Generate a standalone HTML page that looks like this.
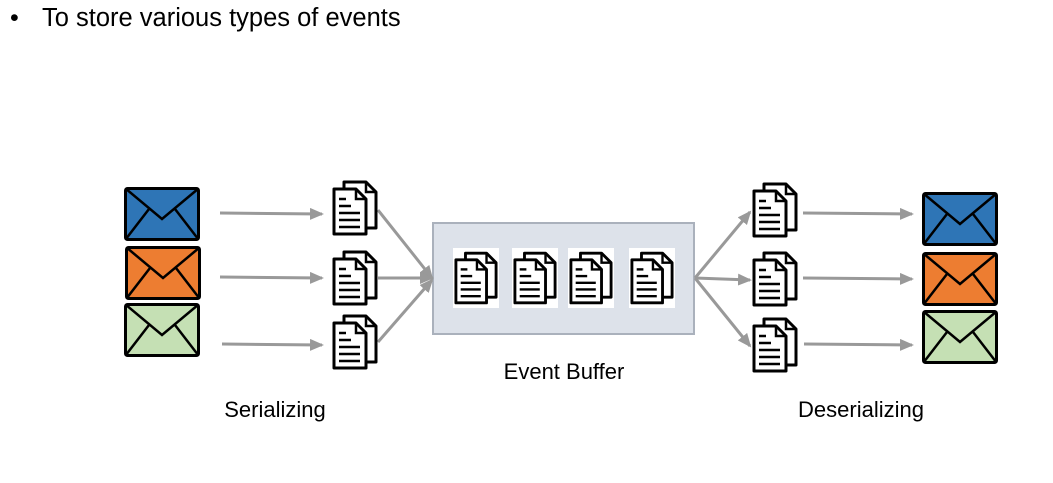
<!DOCTYPE html>
<html><head><style>
body{margin:0;background:#fff;width:1053px;height:478px;overflow:hidden;font-family:"Liberation Sans",sans-serif}
</style></head><body>
<svg width="1053" height="478" viewBox="0 0 1053 478" xmlns="http://www.w3.org/2000/svg">
<defs>
<symbol id="doc" viewBox="0 0 46 56">
<path d="M12 2 H34 L44 12 V48 H12 Z" fill="#fff" stroke="#000" stroke-width="3" stroke-linejoin="round"/>
<path d="M34 2 V12 H44" fill="none" stroke="#000" stroke-width="2.5"/>
<path d="M2 9 H24 L34 19 V54 H2 Z" fill="#fff" stroke="#000" stroke-width="3" stroke-linejoin="round"/>
<path d="M24 9 V19 H34" fill="none" stroke="#000" stroke-width="2.5"/>
<g stroke="#000" stroke-width="2.5"><line x1="7" y1="19" x2="14" y2="19"/><line x1="7" y1="26" x2="19" y2="26"/><line x1="7" y1="33" x2="28" y2="33"/><line x1="7" y1="40" x2="28" y2="40"/><line x1="7" y1="47" x2="28" y2="47"/></g>
</symbol>
<symbol id="env" viewBox="0 0 76 54">
<rect x="1.5" y="1.5" width="73" height="51" rx="2" stroke="#000" stroke-width="3" fill="inherit"/>
<path d="M1.5 1.5 L38 32 L74.5 1.5 M1.5 52.5 L25 22 M74.5 52.5 L51 22" fill="none" stroke="#000" stroke-width="2.5"/>
</symbol>
<marker id="ah2" markerWidth="14" markerHeight="12" refX="12" refY="6" orient="auto" markerUnits="userSpaceOnUse"><path d="M0 0 L14 6 L0 12Z" fill="#999"/></marker>
</defs>
<text x="10" y="26" font-size="25" fill="#000">•</text>
<text x="42" y="26" font-size="25.5" fill="#000">To store various types of events</text>

<rect x="433" y="223" width="261" height="111" fill="#dde2ea" stroke="#aab1bc" stroke-width="2"/>

<g stroke="#999" stroke-width="3" fill="none">
<line x1="220" y1="213" x2="322" y2="214" marker-end="url(#ah2)"/>
<line x1="220" y1="277" x2="322" y2="278" marker-end="url(#ah2)"/>
<line x1="222" y1="344" x2="322" y2="345" marker-end="url(#ah2)"/>
<line x1="378" y1="210" x2="432" y2="278" marker-end="url(#ah2)"/>
<line x1="378" y1="278" x2="432" y2="278" marker-end="url(#ah2)"/>
<line x1="378" y1="342" x2="432" y2="280" marker-end="url(#ah2)"/>
<line x1="695" y1="278" x2="750" y2="212" marker-end="url(#ah2)"/>
<line x1="695" y1="278" x2="750" y2="280" marker-end="url(#ah2)"/>
<line x1="695" y1="278" x2="750" y2="346" marker-end="url(#ah2)"/>
<line x1="803" y1="213" x2="912" y2="214" marker-end="url(#ah2)"/>
<line x1="803" y1="278" x2="912" y2="279" marker-end="url(#ah2)"/>
<line x1="804" y1="344" x2="912" y2="345" marker-end="url(#ah2)"/>
</g>

<use href="#env" x="124" y="187" width="76" height="54" fill="#2e75b6"/>
<use href="#env" x="125" y="246" width="76" height="54" fill="#ed7d31"/>
<use href="#env" x="124" y="303" width="76" height="54" fill="#c5e0b4"/>
<use href="#env" x="922" y="192" width="76" height="54" fill="#2e75b6"/>
<use href="#env" x="922" y="252" width="76" height="54" fill="#ed7d31"/>
<use href="#env" x="922" y="310" width="76" height="54" fill="#c5e0b4"/>

<use href="#doc" x="332" y="180" width="46" height="56"/>
<use href="#doc" x="332" y="250" width="46" height="56"/>
<use href="#doc" x="332" y="314" width="46" height="56"/>
<use href="#doc" x="752" y="182" width="46" height="56"/>
<use href="#doc" x="752" y="251" width="46" height="56"/>
<use href="#doc" x="752" y="317" width="46" height="56"/>

<g fill="#fff"><rect x="453" y="248" width="46" height="60"/><rect x="512" y="248" width="46" height="60"/><rect x="568" y="248" width="46" height="60"/><rect x="629" y="248" width="46" height="60"/></g>
<use href="#doc" x="454" y="250" width="44" height="56"/>
<use href="#doc" x="513" y="250" width="44" height="56"/>
<use href="#doc" x="569" y="250" width="44" height="56"/>
<use href="#doc" x="630" y="250" width="44" height="56"/>

<text x="564" y="379" font-size="22" text-anchor="middle" fill="#000">Event Buffer</text>
<text x="275" y="417" font-size="22" text-anchor="middle" fill="#000">Serializing</text>
<text x="861" y="417" font-size="22" text-anchor="middle" fill="#000">Deserializing</text>
</svg>
</body></html>
